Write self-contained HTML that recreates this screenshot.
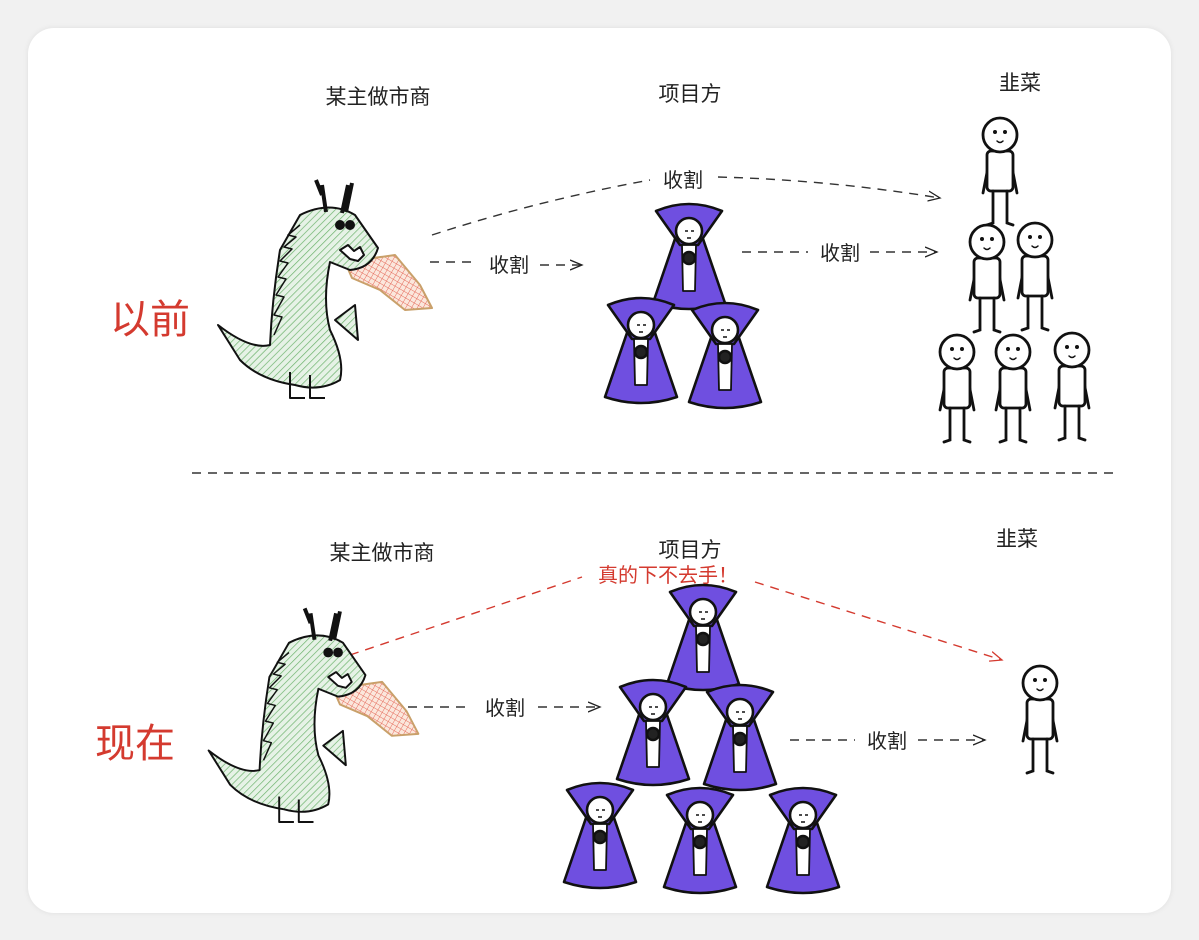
<!DOCTYPE html>
<html><head><meta charset="utf-8"><style>
html,body{margin:0;padding:0;background:#f1f1f1;}
body{width:1199px;height:940px;overflow:hidden;position:relative;}
.card{position:absolute;left:28px;top:28px;width:1143px;height:885px;background:#fff;border-radius:26px;box-shadow:0 0 6px rgba(0,0,0,.08);}
svg{position:absolute;left:0;top:0;}
text{font-family:"Liberation Sans","Noto Sans CJK SC",sans-serif;}
</style></head><body>
<div class="card"></div>
<svg width="1199" height="940" viewBox="0 0 1199 940">
<defs>
<pattern id="hatch" width="5" height="5" patternUnits="userSpaceOnUse" patternTransform="rotate(45)">
<rect width="5" height="5" fill="#e6f2e6"/><line x1="0" y1="0" x2="0" y2="5" stroke="#6db36d" stroke-width="1.4"/></pattern>
<pattern id="grid" width="5" height="5" patternUnits="userSpaceOnUse" patternTransform="rotate(30)">
<rect width="5" height="5" fill="#fbe7dc"/><path d="M0 0H5M0 0V5" stroke="#e56b5b" stroke-width="1"/></pattern>
<g id="vamp" stroke="#111" stroke-width="2.6" stroke-linejoin="round">
<path d="M-12,2 L-36,72 Q0,84 36,72 L12,2 Z" fill="#6f4fe0"/>
<path d="M-33,-20 Q0,-34 33,-20 L9,14 L-9,14 Z" fill="#6f4fe0"/>
<path d="M-7,14 L-6,60 L6,60 L7,14 Z" fill="#fff" stroke-width="1.8"/>
<circle cx="0" cy="27" r="6" fill="#222"/>
<circle cx="0" cy="0" r="13" fill="#fff"/>
<path d="M-4,0 h3 M2,0 h3 M-2,7 h4" stroke-width="1.5"/>
</g>
<g id="man" stroke="#111" stroke-width="2.8" fill="#fff" stroke-linecap="round">
<path d="M-9,17 L-17,58 M9,17 L17,58" fill="none"/>
<rect x="-13" y="16" width="26" height="40" rx="4"/>
<path d="M-7,56 L-7,88 L-13,90 M7,56 L7,88 L13,90" fill="none"/>
<circle cx="0" cy="0" r="17"/>
<circle cx="-5" cy="-3" r="2" fill="#111" stroke="none"/><circle cx="5" cy="-3" r="2" fill="#111" stroke="none"/>
<path d="M-3,6 q3,3 6,0" fill="none" stroke-width="1.5"/>
</g>
<g id="dragon" stroke="#111" stroke-width="2" stroke-linejoin="round">
<path d="M345,262 L395,255 L420,285 L432,308 L405,310 L380,290 L352,278 Z" fill="url(#grid)" stroke="#c9a06a"/>
<path d="M300,215 Q330,200 355,215 L378,248 Q372,268 350,270 L330,262 Q322,300 330,330 Q345,360 340,380 Q320,392 295,385 Q260,380 240,360 L218,325 Q250,350 270,345 Q272,300 280,250 Z" fill="url(#hatch)"/>
<path d="M322,195 L316,180 M326,212 L322,185 M342,213 L348,185 M346,212 L352,183" stroke-width="4" fill="none"/>
<circle cx="340" cy="225" r="4" fill="#111"/><circle cx="350" cy="225" r="4" fill="#111"/>
<path d="M340,250 l8,-5 l6,6 l6,-4 l4,8 l-6,6 l-8,-2 z" fill="#fff"/>
<path d="M335,320 L355,305 L358,340 Z" fill="url(#hatch)"/>
<path d="M290,372 V398 H305 M310,375 V398 H325" fill="none"/>
<path d="M300,225 l-12,10 l8,2 l-12,10 l8,2 l-12,12 l8,2 l-10,14 l8,2 l-10,16 l8,2 l-10,18 l8,2 l-8,18" fill="none" stroke-width="1.5"/>
</g>
<marker id="ah" markerWidth="14" markerHeight="12" refX="12" refY="6" orient="auto" markerUnits="userSpaceOnUse">
<path d="M0,1 L12,6 L0,11" fill="none" stroke="#222" stroke-width="1.3"/></marker>
<marker id="ahr" markerWidth="14" markerHeight="12" refX="12" refY="6" orient="auto" markerUnits="userSpaceOnUse">
<path d="M0,1 L12,6 L0,11" fill="none" stroke="#d43a2f" stroke-width="1.3"/></marker>
</defs>

<g font-size="21" fill="#222" text-anchor="middle">
<text x="378" y="104">某主做市商</text><text x="690" y="101">项目方</text><text x="1020" y="90">韭菜</text>
<text x="382" y="560">某主做市商</text><text x="690" y="557">项目方</text><text x="1017" y="546">韭菜</text>
</g>
<text x="150" y="333" font-size="40" fill="#d43a2f" text-anchor="middle">以前</text>
<text x="135" y="757" font-size="40" fill="#d43a2f" text-anchor="middle">现在</text>

<g stroke="#333" stroke-width="1.4" stroke-dasharray="9,7" fill="none">
<path d="M432,235 Q540,200 650,180" />
<path d="M718,177 Q830,180 940,198" marker-end="url(#ah)"/>
<path d="M430,262 H478"/><path d="M540,265 H582" marker-end="url(#ah)"/>
<path d="M742,252 H808"/><path d="M870,252 H937" marker-end="url(#ah)"/>
<path d="M192,473 H1118"/>
<path d="M408,707 H470"/><path d="M538,707 H600" marker-end="url(#ah)"/>
<path d="M790,740 H855"/><path d="M918,740 H985" marker-end="url(#ah)"/>
</g>
<g stroke="#d43a2f" stroke-width="1.4" stroke-dasharray="9,7" fill="none">
<path d="M350,655 L582,577"/>
<path d="M755,582 L1002,660" marker-end="url(#ahr)"/>
</g>
<g font-size="20" fill="#222" text-anchor="middle">
<text x="683" y="187">收割</text><text x="509" y="272">收割</text><text x="840" y="260">收割</text>
<text x="505" y="715">收割</text><text x="887" y="748">收割</text>
</g>
<text x="668" y="582" font-size="20" fill="#d43a2f" text-anchor="middle">真的下不去手！</text>

<use href="#dragon"/>
<use href="#dragon" transform="translate(-5,432) scale(0.98)"/>

<use href="#vamp" x="689" y="231"/><use href="#vamp" x="641" y="325"/><use href="#vamp" x="725" y="330"/>
<use href="#vamp" x="703" y="612"/><use href="#vamp" x="653" y="707"/><use href="#vamp" x="740" y="712"/>
<use href="#vamp" x="600" y="810"/><use href="#vamp" x="700" y="815"/><use href="#vamp" x="803" y="815"/>

<use href="#man" x="1000" y="135"/>
<use href="#man" x="987" y="242"/><use href="#man" x="1035" y="240"/>
<use href="#man" x="957" y="352"/><use href="#man" x="1013" y="352"/><use href="#man" x="1072" y="350"/>
<use href="#man" x="1040" y="683"/>
</svg>
</body></html>
